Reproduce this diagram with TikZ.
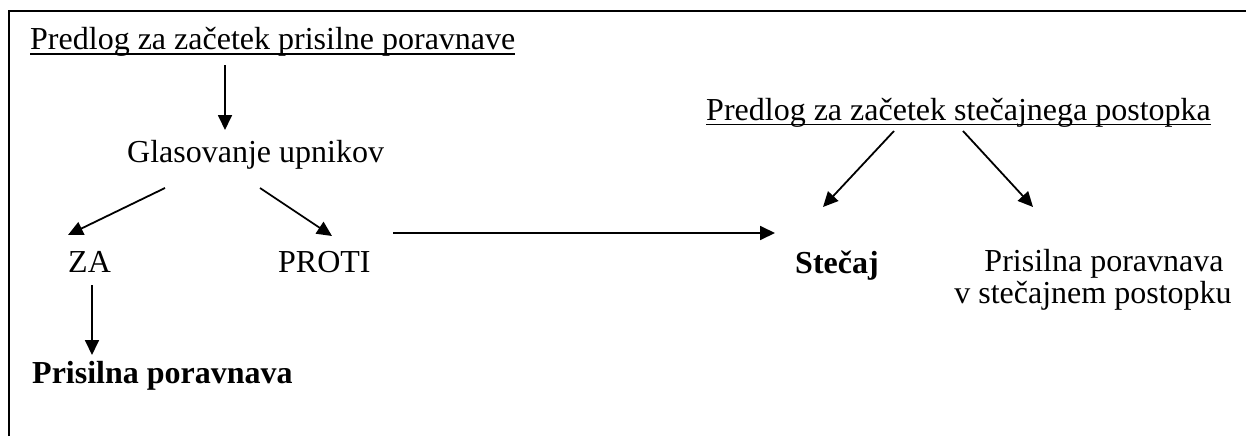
\documentclass[tikz,border=0pt]{standalone}
\usepackage{fontspec}
\setmainfont{Liberation Serif}
\usetikzlibrary{arrows.meta,calc}
\newcommand\myul[1]{\setbox0\hbox{#1}\rlap{\rule[-5pt]{\wd0}{1.5pt}}\box0}
\begin{document}
\begin{tikzpicture}[x=1pt,y=-1pt,
  txt/.style={inner sep=0pt,anchor=base west,font=\fontsize{32}{32}\selectfont},
  btxt/.style={txt,font=\fontsize{32}{32}\selectfont\bfseries},
  arr/.style={line width=1.8pt,-{Triangle[length=15pt,width=14pt]}},
  frame/.style={line width=2pt}]
\useasboundingbox (0,0) rectangle (1246,436);
\draw[frame] (9,436) -- (9,11) -- (1246,11);
\node[txt] (t1) at (30,50) {\myul{Predlog za začetek prisilne poravnave}};
\node[txt] (glas) at (127,162) {Glasovanje upnikov};
\node[txt] (za) at (68,272) {ZA};
\node[txt] (proti) at (278,272) {PROTI};
\node[btxt] (pp) at (32,383) {Prisilna poravnava};
\node[txt] (t2) at (706,120) {\myul{Predlog za začetek stečajnega postopka}};
\node[btxt] (stec) at (795,273) {Stečaj};
\node[inner sep=0pt,align=center,anchor=north,font=\fontsize{32}{32}\selectfont] (ppsp) at (1093,249) {\hspace*{22pt}Prisilna poravnava\\v stečajnem postopku};
\draw[arr] ($(t1.base west)+(195,15)$) -- ($(glas.base west)+(98,-32)$);
\draw[arr] ($(glas.base west)+(38,26)$) -- ($(za.base west)+(0,-37)$);
\draw[arr] ($(glas.base west)+(133,26)$) -- ($(proti.base west)+(54,-36)$);
\draw[arr] ($(za.base west)+(24,13)$) -- ($(pp.base west)+(60,-28)$);
\draw[arr] ($(proti.base west)+(115,-39)$) -- ($(stec.base west)+(-20,-40)$);
\draw[arr] ($(t2.base west)+(188,11)$) -- ($(stec.base west)+(28,-66)$);
\draw[arr] ($(t2.base west)+(257,11)$) -- ($(ppsp.north)+(-60,-42)$);
\end{tikzpicture}
\end{document}
